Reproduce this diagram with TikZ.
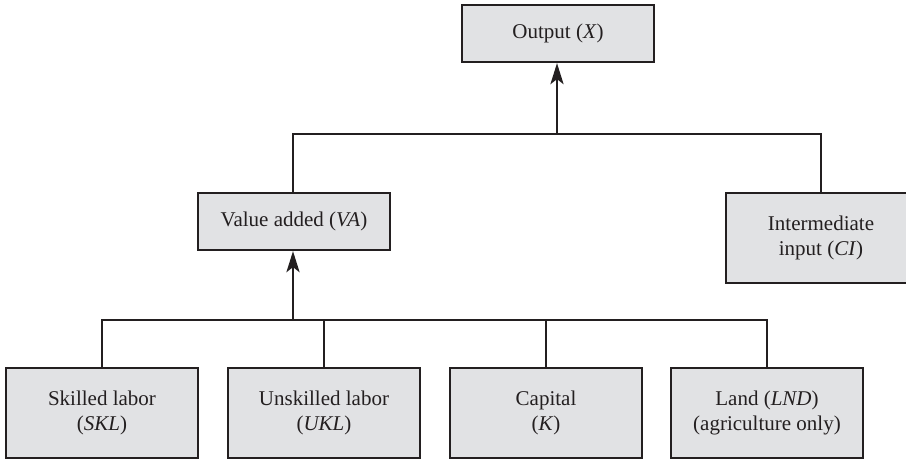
\documentclass[tikz,border=0pt]{standalone}
\usepackage{fontspec}
\setmainfont{Liberation Serif}
\usetikzlibrary{arrows.meta}
\definecolor{boxfill}{RGB}{225,226,228}
\definecolor{ink}{RGB}{35,31,32}
\tikzset{
  box/.style={draw=ink, line width=2.2pt, fill=boxfill, rectangle, minimum width=192pt, align=center, inner sep=0pt, text=ink, font=\fontsize{21}{24.5}\selectfont},
  link/.style={draw=ink, line width=1.9pt},
  arr/.style={draw=ink, line width=2.8pt, -{Stealth[length=21pt,width=13pt,inset=5pt]}},
}
\begin{document}
\begin{tikzpicture}[x=1pt,y=-1pt]
\clip (0,0) rectangle (906,460);
\fill[white] (0,0) rectangle (906,460);
\node[box, minimum height=57pt] (out) at (558,33.5) {Output (\textit{X})};
\node[box, minimum height=57pt] (va) at (294,221.5) {Value added (\textit{VA})};
\node[box, minimum height=90pt, minimum width=190pt] (ci) at (821,238) {Intermediate\\input (\textit{CI})};
\node[box, minimum height=90pt] (skl) at (102,413) {Skilled labor\\(\textit{SKL})};
\node[box, minimum height=90pt] (ukl) at (324,413) {Unskilled labor\\(\textit{UKL})};
\node[box, minimum height=90pt] (cap) at (546,413) {Capital\\(\textit{K})};
\node[box, minimum height=90pt] (lnd) at (767,413) {Land (\textit{LND})\\(agriculture only)};
\coordinate (b1) at (293,320);
\coordinate (b2) at (557,134);
\draw[link] (skl.north) -- (skl.north |- b1) -- (lnd.north |- b1) -- (lnd.north);
\draw[link] (ukl.north) -- (ukl.north |- b1);
\draw[link] (cap.north) -- (cap.north |- b1);
\draw[arr] (b1) -- (b1 |- va.south);
\draw[link] (va.north -| b1) -- (b1 |- b2) -- (ci.north |- b2) -- (ci.north);
\draw[arr] (b2) -- (b2 |- out.south);
\end{tikzpicture}
\end{document}
